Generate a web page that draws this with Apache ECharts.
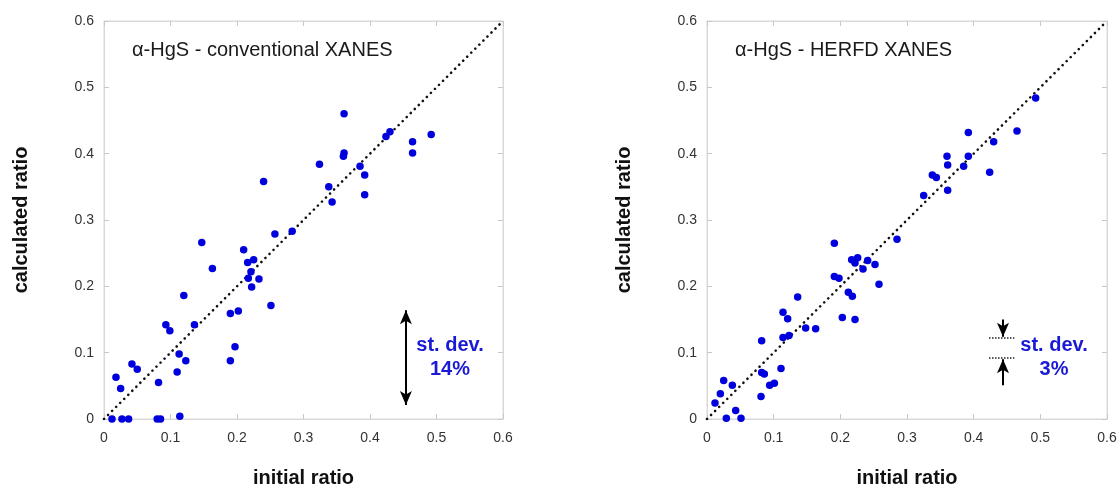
<!DOCTYPE html>
<html>
<head>
<meta charset="utf-8">
<script src="https://cdn.jsdelivr.net/npm/echarts@6/dist/echarts.min.js"></script>
<style>html,body{margin:0;padding:0;background:#fff}#c{width:1117px;height:486px}</style>
</head>
<body>
<div id="c"></div>
<script>
// Data (initial ratio, calculated ratio)
const convX = [0.361,0.430,0.424,0.492,0.464,0.464,0.361,0.360,0.324,0.385,0.392,0.338,0.240,0.343,0.392,0.257,0.283,0.147,0.210,0.216,0.225,0.221,0.217,0.233,0.222,0.163,0.251,0.120,0.190,0.202,0.093,0.136,0.099,0.197,0.190,0.113,0.123,0.110,0.082,0.042,0.050,0.018,0.025,0.012,0.027,0.037,0.080,0.085,0.114];
const convY = [0.460,0.433,0.426,0.429,0.418,0.401,0.401,0.396,0.384,0.381,0.368,0.350,0.358,0.327,0.338,0.279,0.283,0.266,0.255,0.236,0.240,0.222,0.212,0.211,0.199,0.227,0.171,0.186,0.159,0.163,0.142,0.142,0.133,0.109,0.088,0.098,0.088,0.071,0.055,0.083,0.075,0.063,0.046,0.000,0.000,0.000,0.000,0.000,0.004];
const herfdX = [0.493,0.392,0.465,0.430,0.360,0.392,0.361,0.385,0.424,0.338,0.344,0.361,0.325,0.285,0.191,0.217,0.226,0.222,0.241,0.234,0.252,0.191,0.198,0.258,0.212,0.218,0.136,0.114,0.121,0.203,0.222,0.148,0.163,0.114,0.123,0.082,0.082,0.086,0.111,0.094,0.101,0.081,0.025,0.038,0.020,0.012,0.043,0.029,0.051];
const herfdY = [0.484,0.432,0.434,0.418,0.396,0.396,0.383,0.381,0.372,0.368,0.364,0.345,0.337,0.271,0.265,0.240,0.243,0.235,0.239,0.226,0.233,0.215,0.212,0.203,0.191,0.185,0.184,0.161,0.151,0.153,0.150,0.137,0.136,0.123,0.126,0.118,0.070,0.068,0.076,0.051,0.054,0.034,0.058,0.051,0.038,0.024,0.013,0.001,0.001];
const diagonal = [[0, 0], [0.6, 0.6]];
const panelTitles = ['\u03b1-HgS - conventional XANES', '\u03b1-HgS - HERFD XANES'];
const stdevLabels = ['st. dev.\n14%', 'st. dev.\n3%'];

const zip = (a, b) => a.map((v, i) => [v, b[i]]);
const chart = echarts.init(document.getElementById('c'), null, {renderer: 'canvas'});
const FONT = '"Liberation Sans", Arial, sans-serif';
const grids = [
  {left: 104, top: 21, width: 399, height: 398, show: true, borderColor: '#d9d9d9', borderWidth: 1, outerBoundsMode: 'none', containLabel: false},
  {left: 707, top: 21, width: 400, height: 398, show: true, borderColor: '#d9d9d9', borderWidth: 1, outerBoundsMode: 'none', containLabel: false}
];
const xAxes = [], yAxes = [];
[0, 1].forEach(g => {
  xAxes.push({
    gridIndex: g, type: 'value', min: 0, max: 0.6, interval: 0.1, position: 'bottom',
    name: 'initial ratio', nameLocation: 'middle', nameGap: 49,
    nameTextStyle: {fontFamily: FONT, fontWeight: 'bold', fontSize: 20, color: '#111'},
    axisLine: {show: true, onZero: false, lineStyle: {color: '#d9d9d9'}},
    axisTick: {show: true, inside: true, length: 5, lineStyle: {color: '#c8c8c8'}},
    axisLabel: {fontFamily: FONT, fontSize: 14, color: '#333', margin: 12},
    splitLine: {show: false}
  });
  xAxes.push({
    gridIndex: g, type: 'value', min: 0, max: 0.6, interval: 0.1, position: 'top',
    axisLine: {show: true, onZero: false, lineStyle: {color: '#d9d9d9'}},
    axisTick: {show: true, inside: true, length: 5, lineStyle: {color: '#c8c8c8'}},
    axisLabel: {show: false}, splitLine: {show: false}
  });
  yAxes.push({
    gridIndex: g, type: 'value', min: 0, max: 0.6, interval: 0.1, position: 'left',
    name: 'calculated ratio', nameLocation: 'middle', nameGap: 73, nameRotate: 90,
    nameTextStyle: {fontFamily: FONT, fontWeight: 'bold', fontSize: 20, color: '#111'},
    axisLine: {show: true, onZero: false, lineStyle: {color: '#d9d9d9'}},
    axisTick: {show: true, inside: true, length: 5, lineStyle: {color: '#c8c8c8'}},
    axisLabel: {fontFamily: FONT, fontSize: 14, color: '#333', margin: 10},
    splitLine: {show: false}
  });
  yAxes.push({
    gridIndex: g, type: 'value', min: 0, max: 0.6, interval: 0.1, position: 'right',
    axisLine: {show: true, onZero: false, lineStyle: {color: '#d9d9d9'}},
    axisTick: {show: true, inside: true, length: 5, lineStyle: {color: '#c8c8c8'}},
    axisLabel: {show: false}, splitLine: {show: false}
  });
});

const arrowLine = {color: '#000', width: 2, type: 'solid'};
const diagStyle = {color: '#111', width: 2.6, type: [0.1, 5.6], cap: 'round'};
const dotStyle = {color: '#0000dc', opacity: 1};
const series = [
  {type: 'line', xAxisIndex: 0, yAxisIndex: 0, data: diagonal, symbol: 'none', silent: true,
   lineStyle: diagStyle, z: 1,
   markLine: {silent: true, symbol: ['arrow', 'arrow'], symbolSize: [9, 14], label: {show: false},
     lineStyle: arrowLine,
     data: [[{coord: [0.454, 0.164]}, {coord: [0.454, 0.021]}]]}},
  {type: 'scatter', xAxisIndex: 0, yAxisIndex: 0, data: zip(convX, convY), symbolSize: 7.5,
   itemStyle: dotStyle, z: 3},
  {type: 'line', xAxisIndex: 2, yAxisIndex: 2, data: diagonal, symbol: 'none', silent: true,
   lineStyle: diagStyle, z: 1,
   markLine: {silent: true, label: {show: false}, animation: false,
     data: [
       [{coord: [0.444, 0.150], symbol: 'none', lineStyle: arrowLine}, {coord: [0.444, 0.124], symbol: 'arrow', symbolSize: [9, 14], lineStyle: arrowLine}],
       [{coord: [0.444, 0.051], symbol: 'none', lineStyle: arrowLine}, {coord: [0.444, 0.090], symbol: 'arrow', symbolSize: [9, 14], lineStyle: arrowLine}],
       [{coord: [0.423, 0.122], symbol: 'none', lineStyle: {color: '#222', width: 1.5, type: [1.5, 1.5]}}, {coord: [0.461, 0.122], symbol: 'none'}],
       [{coord: [0.423, 0.092], symbol: 'none', lineStyle: {color: '#222', width: 1.5, type: [1.5, 1.5]}}, {coord: [0.461, 0.092], symbol: 'none'}]
     ]}},
  {type: 'scatter', xAxisIndex: 2, yAxisIndex: 2, data: zip(herfdX, herfdY), symbolSize: 7.5,
   itemStyle: dotStyle, z: 3}
];

chart.setOption({
  animation: false,
  backgroundColor: '#fff',
  grid: grids, xAxis: xAxes, yAxis: yAxes, series: series,
  graphic: [
    {type: 'text', left: 132, top: 40, style: {text: panelTitles[0], font: '20px ' + FONT, fill: '#1a1a1a'}},
    {type: 'text', left: 735, top: 40, style: {text: panelTitles[1], font: '20px ' + FONT, fill: '#1a1a1a'}},
    {type: 'text', x: 450, y: 333, style: {text: stdevLabels[0], font: 'bold 20px ' + FONT, fill: '#1a1ad6', align: 'center', lineHeight: 24}},
    {type: 'text', x: 1054, y: 333, style: {text: stdevLabels[1], font: 'bold 20px ' + FONT, fill: '#1a1ad6', align: 'center', lineHeight: 24}}
  ]
});
</script>
</body>
</html>
